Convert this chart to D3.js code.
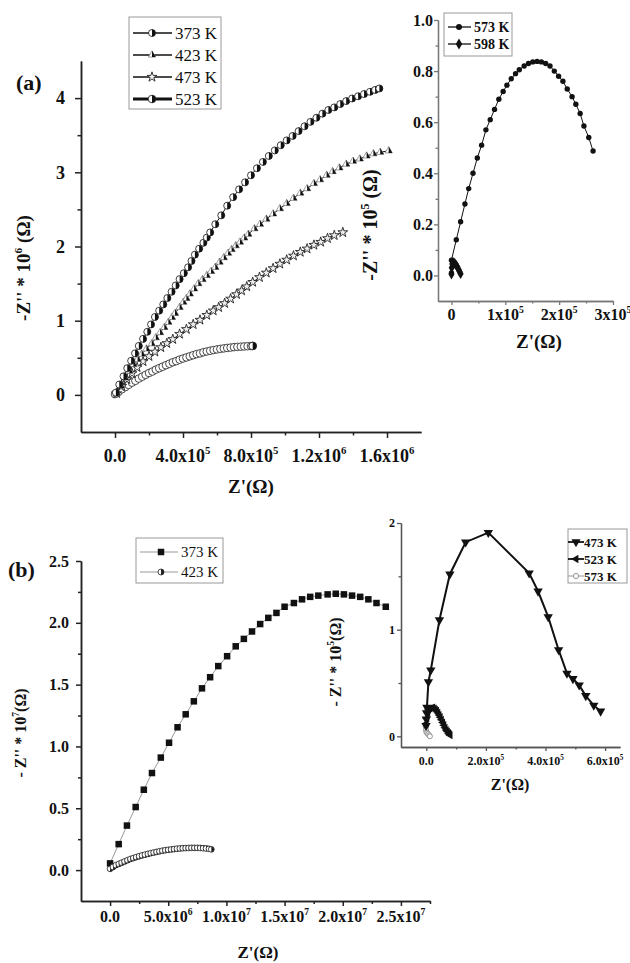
<!DOCTYPE html>
<html>
<head>
<meta charset="utf-8">
<script src="https://cdn.jsdelivr.net/npm/d3@7"></script>
<style>
  body { margin: 0; background: #fff; }
  svg { display: block; }
  text { font-family: "Liberation Serif", "Times New Roman", serif; fill: #111; }
</style>
</head>
<body>
<svg id="chart" width="630" height="963"></svg>
<script>
// ---------------- Panel (a), main plot: Z' and -Z'' both in units of 10^6 Ω ----------------
const a373 = [[0.005,0.03],[0.025,0.14],[0.05,0.25],[0.072,0.36],[0.095,0.46],[0.118,0.56],[0.14,0.66],[0.165,0.755],[0.19,0.85],[0.212,0.95],[0.235,1.05],[0.26,1.135],[0.284,1.22],[0.308,1.305],[0.333,1.39],[0.357,1.475],[0.38,1.56],[0.405,1.64],[0.43,1.72],[0.45,1.805],[0.47,1.89],[0.495,1.97],[0.52,2.05],[0.54,2.12],[0.56,2.19],[0.59,2.30],[0.625,2.42],[0.66,2.55],[0.695,2.665],[0.73,2.77],[0.765,2.865],[0.80,2.96],[0.835,3.055],[0.87,3.14],[0.905,3.22],[0.94,3.295],[0.975,3.365],[1.01,3.43],[1.045,3.49],[1.08,3.555],[1.115,3.62],[1.15,3.68],[1.185,3.735],[1.22,3.79],[1.255,3.84],[1.29,3.875],[1.325,3.92],[1.36,3.96],[1.395,3.995],[1.43,4.025],[1.465,4.055],[1.50,4.085],[1.53,4.11],[1.555,4.13]];
const a423 = [[0.01,0.02],[0.035,0.12],[0.059,0.23],[0.085,0.32],[0.108,0.41],[0.133,0.48],[0.157,0.55],[0.185,0.62],[0.216,0.69],[0.24,0.77],[0.265,0.84],[0.29,0.91],[0.314,0.98],[0.335,1.045],[0.353,1.10],[0.38,1.18],[0.402,1.25],[0.42,1.30],[0.44,1.36],[0.465,1.43],[0.49,1.50],[0.515,1.555],[0.54,1.61],[0.565,1.665],[0.59,1.72],[0.615,1.79],[0.64,1.85],[0.665,1.91],[0.686,1.96],[0.71,2.01],[0.735,2.06],[0.76,2.115],[0.784,2.165],[0.82,2.24],[0.853,2.30],[0.89,2.37],[0.93,2.44],[0.97,2.51],[1.01,2.58],[1.05,2.65],[1.09,2.72],[1.13,2.78],[1.17,2.85],[1.206,2.90],[1.245,2.96],[1.28,3.01],[1.32,3.06],[1.36,3.11],[1.40,3.15],[1.44,3.18],[1.48,3.22],[1.52,3.25],[1.56,3.27],[1.61,3.29]];
const a473 = [[0.01,0.02],[0.04,0.12],[0.07,0.21],[0.10,0.29],[0.13,0.37],[0.165,0.45],[0.2,0.52],[0.235,0.58],[0.27,0.64],[0.305,0.695],[0.34,0.75],[0.38,0.82],[0.42,0.885],[0.46,0.95],[0.5,1.01],[0.54,1.075],[0.578,1.135],[0.61,1.18],[0.645,1.235],[0.68,1.295],[0.715,1.355],[0.745,1.405],[0.775,1.46],[0.81,1.52],[0.85,1.585],[0.89,1.645],[0.93,1.705],[0.97,1.765],[1.01,1.82],[1.05,1.875],[1.09,1.925],[1.13,1.97],[1.17,2.02],[1.21,2.06],[1.25,2.11],[1.29,2.15],[1.34,2.19]];
const a523 = [[0,0.01],[0.02,0.04],[0.04,0.075],[0.06,0.105],[0.08,0.135],[0.10,0.165],[0.12,0.19],[0.14,0.22],[0.16,0.245],[0.18,0.27],[0.20,0.295],[0.22,0.315],[0.24,0.34],[0.26,0.36],[0.28,0.38],[0.30,0.40],[0.32,0.42],[0.34,0.44],[0.36,0.455],[0.38,0.475],[0.40,0.49],[0.42,0.505],[0.44,0.52],[0.46,0.535],[0.48,0.55],[0.50,0.56],[0.52,0.575],[0.54,0.585],[0.56,0.595],[0.58,0.605],[0.60,0.613],[0.62,0.62],[0.64,0.627],[0.66,0.633],[0.68,0.638],[0.70,0.643],[0.72,0.647],[0.74,0.65],[0.76,0.653],[0.78,0.656],[0.80,0.658],[0.81,0.66]];

// ---------------- Panel (a), inset: units of 10^5 Ω ----------------
const a573 = [[0.0,0.01],[0.0,0.06],[0.09,0.14],[0.17,0.21],[0.25,0.28],[0.32,0.34],[0.40,0.40],[0.48,0.46],[0.56,0.51],[0.64,0.57],[0.72,0.61],[0.80,0.65],[0.88,0.69],[0.96,0.72],[1.03,0.745],[1.11,0.77],[1.19,0.79],[1.26,0.805],[1.35,0.82],[1.43,0.83],[1.51,0.836],[1.59,0.838],[1.67,0.836],[1.75,0.83],[1.83,0.82],[1.91,0.80],[1.99,0.78],[2.07,0.76],[2.15,0.73],[2.24,0.70],[2.31,0.67],[2.39,0.634],[2.46,0.585],[2.55,0.54],[2.63,0.487]];
const a598 = [[0.0,0.005],[0.005,0.03],[0.015,0.045],[0.03,0.052],[0.05,0.05],[0.07,0.045],[0.09,0.04],[0.11,0.033],[0.13,0.024],[0.15,0.015],[0.17,0.007]];

// ---------------- Panel (b), main plot: units of 10^7 Ω ----------------
const b373 = [[0,0.054],[0.074,0.21],[0.145,0.36],[0.22,0.51],[0.29,0.65],[0.36,0.785],[0.436,0.91],[0.507,1.03],[0.58,1.155],[0.65,1.26],[0.72,1.365],[0.79,1.47],[0.86,1.56],[0.93,1.65],[1.006,1.73],[1.08,1.81],[1.15,1.87],[1.22,1.93],[1.29,1.99],[1.36,2.04],[1.43,2.08],[1.50,2.13],[1.58,2.16],[1.65,2.19],[1.72,2.21],[1.79,2.22],[1.87,2.23],[1.94,2.235],[2.01,2.23],[2.08,2.22],[2.15,2.21],[2.22,2.19],[2.29,2.16],[2.37,2.13]];
const b423 = [[0,0.01],[0.025,0.025],[0.05,0.04],[0.075,0.05],[0.1,0.06],[0.125,0.07],[0.15,0.08],[0.175,0.09],[0.2,0.097],[0.225,0.105],[0.25,0.112],[0.275,0.119],[0.3,0.125],[0.325,0.131],[0.35,0.137],[0.375,0.142],[0.4,0.147],[0.425,0.152],[0.45,0.157],[0.475,0.161],[0.5,0.164],[0.525,0.167],[0.55,0.17],[0.575,0.173],[0.6,0.175],[0.625,0.177],[0.65,0.178],[0.675,0.179],[0.7,0.18],[0.725,0.18],[0.75,0.18],[0.775,0.179],[0.8,0.177],[0.825,0.175],[0.85,0.172],[0.87,0.168]];

// ---------------- Panel (b), inset: units of 10^5 Ω ----------------
const b473 = [[-0.01,0.1],[0.0,0.16],[0.01,0.22],[0.02,0.27],[0.07,0.51],[0.15,0.62],[0.44,1.09],[0.79,1.52],[1.32,1.82],[2.08,1.91],[3.45,1.53],[3.75,1.36],[4.09,1.12],[4.44,0.81],[4.72,0.59],[4.92,0.54],[5.13,0.48],[5.35,0.38],[5.62,0.29],[5.85,0.235]];
const b523 = [[0.0,0.12],[0.02,0.17],[0.05,0.22],[0.08,0.25],[0.12,0.26],[0.17,0.265],[0.22,0.27],[0.27,0.26],[0.31,0.25],[0.35,0.24],[0.39,0.22],[0.43,0.2],[0.47,0.18],[0.51,0.155],[0.55,0.13],[0.59,0.105],[0.63,0.08],[0.67,0.06],[0.71,0.045],[0.75,0.03],[0.78,0.02],[0.8,0.01]];
const b573 = [[-0.02,0.09],[-0.01,0.06],[0.0,0.04],[0.03,0.03],[0.06,0.02],[0.1,0.01],[0.12,0.0]];

// Tick values
const aMainXTicks = [0, 0.4, 0.8, 1.2, 1.6], aMainXMinor = [0.2, 0.6, 1.0, 1.4];
const aMainYTicks = [0, 1, 2, 3, 4], aMainYMinor = [0.5, 1.5, 2.5, 3.5];
const aInsXTicks = [0, 1, 2, 3], aInsXMinor = [0.5, 1.5, 2.5];
const aInsYTicks = [0, 0.2, 0.4, 0.6, 0.8, 1.0], aInsYMinor = [0.1, 0.3, 0.5, 0.7, 0.9];
const bMainXTicks = [0, 0.5, 1.0, 1.5, 2.0, 2.5], bMainXMinor = [0.25, 0.75, 1.25, 1.75, 2.25, 2.75];
const bMainYTicks = [0, 0.5, 1.0, 1.5, 2.0, 2.5], bMainYMinor = [0.25, 0.75, 1.25, 1.75, 2.25];
const bInsXTicks = [0, 2, 4, 6], bInsXMinor = [1, 3, 5];
const bInsYTicks = [0, 1, 2], bInsYMinor = [0.5, 1.5];

const svg = d3.select("#chart");

// ---- marker painters ----
const M = {
  halfCircle(g, x, y, r, col = "#111") {
    g.append("circle").attr("cx", x).attr("cy", y).attr("r", r)
      .attr("fill", "#fff").attr("stroke", col).attr("stroke-width", 0.8);
    g.append("path").attr("d", `M${x},${y - r}A${r},${r} 0 0 1 ${x},${y + r}Z`).attr("fill", col);
  },
  openCircle(g, x, y, r, col = "#333") {
    g.append("circle").attr("cx", x).attr("cy", y).attr("r", r)
      .attr("fill", "#fff").attr("stroke", col).attr("stroke-width", 0.9);
  },
  dot(g, x, y, r) {
    g.append("circle").attr("cx", x).attr("cy", y).attr("r", r).attr("fill", "#111");
  },
  halfTriangle(g, x, y, r) {
    const h = r * 0.5, w = r * 0.87;
    g.append("path").attr("d", `M${x},${y - r}L${x + w},${y + h}L${x - w},${y + h}Z`)
      .attr("fill", "#fff").attr("stroke", "#777").attr("stroke-width", 0.7);
    g.append("path").attr("d", `M${x},${y - r}L${x + w},${y + h}L${x},${y + h}Z`).attr("fill", "#111");
  },
  star(g, x, y, size) {
    g.append("path").attr("d", d3.symbol(d3.symbolStar, size)())
      .attr("transform", `translate(${x},${y})`)
      .attr("fill", "#eee").attr("stroke", "#222").attr("stroke-width", 0.9);
  },
  symbol(g, x, y, type, size, rot = 0, fill = "#111") {
    g.append("path").attr("d", d3.symbol(type, size)())
      .attr("transform", `translate(${x},${y}) rotate(${rot})`).attr("fill", fill);
  },
  square(g, x, y, s) {
    g.append("rect").attr("x", x - s / 2).attr("y", y - s / 2).attr("width", s).attr("height", s).attr("fill", "#111");
  }
};

// ---- text with superscript exponent ----
function sci(sel, mant, exp, fs, tail) {
  sel.append("tspan").text(mant + "x10");
  sel.append("tspan").attr("dy", -fs * 0.42).attr("font-size", fs * 0.6).text(exp);
  if (tail) sel.append("tspan").attr("dy", fs * 0.42).text(tail);
}

function tickText(v, unitExp, decimals, zeroLabel) {
  if (v === 0) return { plain: zeroLabel };
  const val = v * Math.pow(10, unitExp);
  const e = Math.floor(Math.log10(val) + 1e-9);
  const m = val / Math.pow(10, e);
  return { mant: m.toFixed(decimals), exp: e };
}

// ---- generic panel builder ----
function panel(cfg) {
  const x = d3.scaleLinear().domain(cfg.xDomain).range(cfg.xRange);
  const y = d3.scaleLinear().domain(cfg.yDomain).range(cfg.yRange);
  const g = svg.append("g");
  const yBase = cfg.yRange[0], xBase = cfg.xRange[0];

  const styleAxis = sel => {
    sel.selectAll("path,line").attr("stroke", cfg.axisColor).attr("stroke-width", cfg.axisWidth);
    sel.selectAll("text").remove();
  };
  g.append("g").attr("transform", `translate(0,${yBase})`)
    .call(d3.axisBottom(x).tickValues(cfg.xMinor).tickSize(cfg.minorLen).tickSizeOuter(0)).call(styleAxis);
  g.append("g").attr("transform", `translate(0,${yBase})`)
    .call(d3.axisBottom(x).tickValues(cfg.xTicks).tickSize(cfg.majorLen).tickSizeOuter(0)).call(styleAxis);
  g.append("g").attr("transform", `translate(${xBase},0)`)
    .call(d3.axisLeft(y).tickValues(cfg.yMinor).tickSize(cfg.minorLen).tickSizeOuter(0)).call(styleAxis);
  g.append("g").attr("transform", `translate(${xBase},0)`)
    .call(d3.axisLeft(y).tickValues(cfg.yTicks).tickSize(cfg.majorLen).tickSizeOuter(0)).call(styleAxis);

  // x tick labels
  cfg.xTicks.forEach(v => {
    const t = g.append("text").attr("x", x(v)).attr("y", cfg.xLabelY)
      .attr("text-anchor", "middle").attr("font-size", cfg.tickFs).attr("font-weight", "bold");
    const info = tickText(v, cfg.xUnitExp, cfg.xDecimals, cfg.xZero);
    if (info.plain !== undefined) t.text(info.plain); else sci(t, info.mant, info.exp, cfg.tickFs);
  });
  // y tick labels
  cfg.yTicks.forEach(v => {
    g.append("text").attr("x", cfg.yLabelX).attr("y", y(v)).attr("dy", "0.35em")
      .attr("text-anchor", "end").attr("font-size", cfg.yTickFs || cfg.tickFs).attr("font-weight", "bold")
      .text(d3.format(cfg.yFormat)(v));
  });
  // axis titles
  const xt = g.append("text").attr("x", cfg.xTitle[0]).attr("y", cfg.xTitle[1])
    .attr("text-anchor", "middle").attr("font-size", cfg.titleFs).attr("font-weight", "bold");
  xt.text("Z'(\u03A9)");
  const yfs = cfg.yTitleFs || cfg.titleFs;
  const yt = g.append("text").attr("transform", `translate(${cfg.yTitle[0]},${cfg.yTitle[1]}) rotate(-90)`)
    .attr("text-anchor", "middle").attr("font-size", yfs).attr("font-weight", "bold");
  yt.append("tspan").text(cfg.yTitleText + " * 10");
  yt.append("tspan").attr("dy", -yfs * 0.42).attr("font-size", yfs * 0.6).text(cfg.yTitleExp);
  yt.append("tspan").attr("dy", yfs * 0.42).text(cfg.yTitleTail);

  return { g, x, y };
}

function drawSeries(p, data, lineColor, lineWidth, paint) {
  const line = d3.line().x(d => p.x(d[0])).y(d => p.y(d[1]));
  p.g.append("path").datum(data).attr("d", line).attr("fill", "none")
    .attr("stroke", lineColor).attr("stroke-width", lineWidth);
  const mg = p.g.append("g");
  data.forEach(d => paint(mg, p.x(d[0]), p.y(d[1])));
}

function legend(box, rows, fs, weight) {
  const g = svg.append("g");
  g.append("rect").attr("x", box[0]).attr("y", box[1]).attr("width", box[2] - box[0]).attr("height", box[3] - box[1])
    .attr("fill", "#fff").attr("stroke", "#999").attr("stroke-width", 1);
  rows.forEach(r => {
    g.append("line").attr("x1", r.l0).attr("x2", r.l1).attr("y1", r.y).attr("y2", r.y)
      .attr("stroke", r.color).attr("stroke-width", r.width);
    r.paint(g, r.mx, r.y);
    g.append("text").attr("x", r.tx).attr("y", r.y).attr("dy", "0.35em").attr("font-size", fs)
      .attr("font-weight", weight).text(r.label);
  });
}

// =================== Panel (a) main ===================
const pA = panel({
  xDomain: [-0.2, 1.8], xRange: [81, 421], yDomain: [-0.5, 4.5], yRange: [432, 61],
  xTicks: aMainXTicks, xMinor: aMainXMinor, yTicks: aMainYTicks, yMinor: aMainYMinor,
  axisColor: "#222", axisWidth: 1.5, majorLen: 6, minorLen: 3.5,
  xLabelY: 462, tickFs: 18, xUnitExp: 6, xDecimals: 1, xZero: "0.0",
  yLabelX: 65, yFormat: "d",
  xTitle: [251, 493], yTitle: [30, 268], titleFs: 19,
  yTitleText: "-Z''", yTitleExp: "6", yTitleTail: " (\u03A9)"
});
drawSeries(pA, a523, "#111", 2, (g, x, y) => M.openCircle(g, x, y, 3.8, "#333"));
drawSeries(pA, a473, "#333", 1, (g, x, y) => M.star(g, x, y, 30));
drawSeries(pA, a423, "#111", 1, (g, x, y) => M.halfTriangle(g, x, y, 4.2));
drawSeries(pA, a373, "#111", 1, (g, x, y) => M.halfCircle(g, x, y, 3.5));
// the last point of the lowest curve is drawn half filled
M.halfCircle(pA.g, pA.x(a523[a523.length - 1][0]), pA.y(a523[a523.length - 1][1]), 3.8);

svg.append("text").attr("x", 16).attr("y", 90).attr("font-size", 22).attr("font-weight", "bold").text("(a)");

legend([129, 17, 221, 109], [
  { y: 33, l0: 133, l1: 172, mx: 152, tx: 175, color: "#111", width: 1.5, label: "373 K", paint: (g, x, y) => M.halfCircle(g, x, y, 3.5) },
  { y: 55, l0: 133, l1: 172, mx: 152, tx: 175, color: "#111", width: 1.5, label: "423 K", paint: (g, x, y) => M.halfTriangle(g, x, y, 4.2) },
  { y: 77, l0: 133, l1: 172, mx: 152, tx: 175, color: "#111", width: 1.5, label: "473 K", paint: (g, x, y) => M.star(g, x, y, 30) },
  { y: 99, l0: 133, l1: 172, mx: 152, tx: 175, color: "#111", width: 3, label: "523 K", paint: (g, x, y) => M.halfCircle(g, x, y, 3.8) }
], 17, "normal");

// =================== Panel (a) inset ===================
const pAi = panel({
  xDomain: [-0.25, 3], xRange: [438, 613], yDomain: [-0.1, 1.0], yRange: [301, 20],
  xTicks: aInsXTicks, xMinor: aInsXMinor, yTicks: aInsYTicks, yMinor: aInsYMinor,
  axisColor: "#777", axisWidth: 1.3, majorLen: 4, minorLen: 2.5,
  xLabelY: 320, tickFs: 16, xUnitExp: 5, xDecimals: 0, xZero: "0",
  yLabelX: 433, yFormat: ".1f",
  xTitle: [539, 348], yTitle: [377, 225], titleFs: 19, yTitleFs: 20,
  yTitleText: "-Z''", yTitleExp: "5", yTitleTail: " (\u03A9)"
});
drawSeries(pAi, a573, "#111", 1, (g, x, y) => M.dot(g, x, y, 2.7));
drawSeries(pAi, a598, "#111", 1, (g, x, y) => M.symbol(g, x, y, d3.symbolDiamond, 32));

legend([444, 13, 512, 56], [
  { y: 27, l0: 448, l1: 471, mx: 459, tx: 474, color: "#111", width: 1.3, label: "573 K", paint: (g, x, y) => M.dot(g, x, y, 3) },
  { y: 44, l0: 448, l1: 471, mx: 459, tx: 474, color: "#111", width: 1.3, label: "598 K", paint: (g, x, y) => M.symbol(g, x, y, d3.symbolDiamond, 36) }
], 14, "bold");

// =================== Panel (b) main ===================
const pB = panel({
  xDomain: [-0.25, 2.75], xRange: [81, 430], yDomain: [-0.25, 2.5], yRange: [901, 561],
  xTicks: bMainXTicks, xMinor: bMainXMinor, yTicks: bMainYTicks, yMinor: bMainYMinor,
  axisColor: "#222", axisWidth: 1.5, majorLen: 5, minorLen: 3,
  xLabelY: 922, tickFs: 16, xUnitExp: 7, xDecimals: 1, xZero: "0.0",
  yLabelX: 69, yFormat: ".1f",
  xTitle: [258, 958], yTitle: [26, 733], titleFs: 17, yTitleFs: 16,
  yTitleText: "- Z''", yTitleExp: "7", yTitleTail: "(\u03A9)"
});
drawSeries(pB, b373, "#999", 1, (g, x, y) => M.square(g, x, y, 6.5));
drawSeries(pB, b423, "#999", 1, (g, x, y) => M.halfCircle(g, x, y, 2.9, "#222"));

svg.append("text").attr("x", 8).attr("y", 577).attr("font-size", 22).attr("font-weight", "bold").text("(b)");

legend([136, 538, 223, 583], [
  { y: 552, l0: 140, l1: 178, mx: 161, tx: 181, color: "#999", width: 1, label: "373 K", paint: (g, x, y) => M.square(g, x, y, 6.5) },
  { y: 572, l0: 140, l1: 178, mx: 161, tx: 181, color: "#999", width: 1, label: "423 K", paint: (g, x, y) => M.halfCircle(g, x, y, 3, "#222") }
], 15, "normal");

// =================== Panel (b) inset ===================
const pBi = panel({
  xDomain: [-0.85, 6.5], xRange: [401, 620], yDomain: [-0.1, 2.0], yRange: [747, 523],
  xTicks: bInsXTicks, xMinor: bInsXMinor, yTicks: bInsYTicks, yMinor: bInsYMinor,
  axisColor: "#555", axisWidth: 1.3, majorLen: 4, minorLen: 2.5,
  xLabelY: 765, tickFs: 12, xUnitExp: 5, xDecimals: 1, xZero: "0.0",
  yLabelX: 395, yFormat: "d",
  xTitle: [510, 790], yTitle: [341, 662], titleFs: 16, yTitleFs: 16,
  yTitleText: "- Z''", yTitleExp: "5", yTitleTail: "(\u03A9)"
});
drawSeries(pBi, b573, "#999", 1, (g, x, y) => M.openCircle(g, x, y, 2.5, "#888"));
drawSeries(pBi, b523, "#111", 1.5, (g, x, y) => M.symbol(g, x, y, d3.symbolTriangle, 28, -90));
drawSeries(pBi, b473, "#111", 2, (g, x, y) => M.symbol(g, x, y, d3.symbolTriangle, 38, 180));

legend([568, 529, 627, 583], [
  { y: 542, l0: 568, l1: 584, mx: 576, tx: 584, color: "#111", width: 1.8, label: "473 K", paint: (g, x, y) => M.symbol(g, x, y, d3.symbolTriangle, 36, 180) },
  { y: 559, l0: 568, l1: 584, mx: 576, tx: 584, color: "#111", width: 1.8, label: "523 K", paint: (g, x, y) => M.symbol(g, x, y, d3.symbolTriangle, 30, -90) },
  { y: 576, l0: 568, l1: 584, mx: 576, tx: 584, color: "#999", width: 1, label: "573 K", paint: (g, x, y) => M.openCircle(g, x, y, 2.6, "#888") }
], 13, "bold");
</script>
</body>
</html>
